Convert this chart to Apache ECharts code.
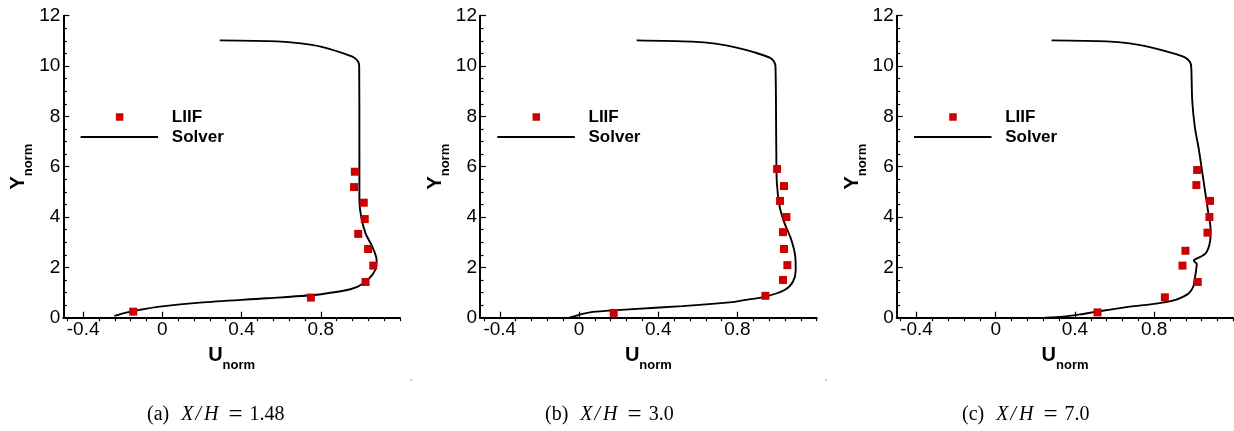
<!DOCTYPE html>
<html>
<head>
<meta charset="utf-8">
<script src="https://cdn.jsdelivr.net/npm/echarts@6/dist/echarts.min.js"></script>
<style>
  html, body { margin: 0; padding: 0; background: #fff; }
  #chart { width: 1234px; height: 431px; }
</style>
</head>
<body>
<div id="chart"></div>
<script>
// Axis ticks
const xTickLabels = [-0.4, 0, 0.4, 0.8];
const yTickLabels = [0, 2, 4, 6, 8, 10, 12];

// Panel captions: station X/H
const captionTags = ['(a)', '(b)', '(c)'];
const stations = ['1.48', '3.0', '7.0'];

// LIIF reconstruction samples [U_norm, Y_norm]
const liifA = [[0.972, 5.80], [0.968, 5.19], [1.017, 4.57], [1.022, 3.92], [0.989, 3.33],
               [1.039, 2.73], [1.065, 2.07], [1.026, 1.42], [0.750, 0.80], [-0.147, 0.24]];
const liifB = [[1.000, 5.91], [1.035, 5.23], [1.015, 4.64], [1.047, 4.00], [1.030, 3.40],
               [1.035, 2.73], [1.052, 2.09], [1.030, 1.50], [0.941, 0.87], [0.175, 0.19]];
const liifC = [[1.017, 5.87], [1.013, 5.27], [1.082, 4.64], [1.079, 4.00], [1.069, 3.38],
               [0.958, 2.66], [0.943, 2.07], [1.020, 1.42], [0.854, 0.81], [0.514, 0.21]];

// Solver profiles [U_norm, Y_norm], from the top of the domain down to the wall
const solverA = [[0.29, 11.02], [0.58, 10.98], [0.70, 10.90], [0.80, 10.77], [0.90, 10.54],
                 [0.967, 10.34], [0.989, 10.17], [0.994, 9.97], [0.995, 6.66], [0.995, 4.68],
                 [1.004, 4.01], [1.026, 3.35], [1.060, 2.82], [1.082, 2.29], [1.080, 2.03],
                 [1.060, 1.70], [1.017, 1.37], [0.950, 1.13], [0.848, 0.99], [0.781, 0.91],
                 [0.527, 0.77], [0.189, 0.60], [-0.014, 0.44], [-0.115, 0.31], [-0.183, 0.20],
                 [-0.242, 0.07]];
const solverB = [[0.291, 11.02], [0.571, 10.97], [0.689, 10.89], [0.790, 10.74], [0.891, 10.53],
                 [0.963, 10.33], [0.985, 10.17], [0.992, 9.97], [0.996, 6.66], [0.999, 5.34],
                 [1.013, 4.41], [1.038, 3.75], [1.072, 3.09], [1.092, 2.42], [1.094, 1.89],
                 [1.080, 1.43], [1.038, 1.10], [0.946, 0.85], [0.819, 0.68], [0.773, 0.62],
                 [0.521, 0.46], [0.252, 0.33], [0.084, 0.24], [0.017, 0.15], [-0.017, 0.07],
                 [-0.05, 0.0]];
const solverC = [[0.282, 11.02], [0.560, 10.98], [0.677, 10.90], [0.778, 10.75], [0.879, 10.54],
                 [0.955, 10.34], [0.980, 10.17], [0.987, 9.97], [0.992, 8.65], [1.005, 7.59],
                 [1.026, 6.66], [1.051, 5.34], [1.071, 4.28], [1.085, 3.48], [1.082, 3.02],
                 [1.060, 2.56], [1.003, 2.30], [1.000, 2.26], [1.015, 2.13], [1.012, 1.90],
                 [1.005, 1.55], [0.998, 1.25], [0.975, 0.97], [0.916, 0.73], [0.849, 0.61],
                 [0.781, 0.53], [0.677, 0.44], [0.509, 0.24], [0.425, 0.13], [0.341, 0.04],
                 [0.25, 0.0]];

const liifSets = [liifA, liifB, liifC];
const solverSets = [solverA, solverB, solverC];

const SANS = '"Liberation Sans", Arial, Helvetica, sans-serif';
const SERIF = '"Liberation Serif", "Times New Roman", serif';
const RED = '#cc0000';

const panelLeft = [63.3, 480, 896.7];
const panelWidth = 336.7;
const panelTop = 15.7;
const panelHeight = 302;
const xMin = -0.5, xMax = 1.2;

// minor x ticks: five subdivisions of each labelled interval
const xStep = (xTickLabels[1] - xTickLabels[0]) / 5;
const xMinor = [];
for (let v = xTickLabels[0] - xStep; v <= xMax + 1e-9; v += xStep) {
  const r = Math.round(v * 100) / 100;
  if (r < xMin || r > xMax) continue;
  if (xTickLabels.some(t => Math.abs(t - r) < 1e-6)) continue;
  xMinor.push(r);
}

const nameRich = {
  b: { fontFamily: SANS, fontSize: 20, fontWeight: 'bold', color: '#000' },
  s: { fontFamily: SANS, fontSize: 13, fontWeight: 'bold', color: '#000', padding: [20, 0, 0, 0] }
};

const grid = [], xAxis = [], yAxis = [], series = [], graphic = [];

for (let i = 0; i < 3; i++) {
  const L = panelLeft[i];
  grid.push({ left: L, top: panelTop, width: panelWidth, height: panelHeight, containLabel: false });

  // labelled x axis with long ticks
  xAxis.push({
    type: 'value', gridIndex: i, min: xMin, max: xMax,
    axisLine: { show: true, onZero: false, lineStyle: { color: '#000', width: 2 } },
    axisTick: { show: true, inside: true, length: 6, customValues: xTickLabels,
                lineStyle: { color: '#000', width: 1.2 } },
    axisLabel: { show: true, customValues: xTickLabels, margin: 3, fontFamily: SANS,
                 fontSize: 19, color: '#000',
                 formatter: v => String(Math.round(v * 10) / 10) },
    splitLine: { show: false },
    name: '{b|U}{s|norm}', nameLocation: 'middle', nameGap: 21,
    nameTextStyle: { rich: nameRich }
  });
  // minor x ticks
  xAxis.push({
    type: 'value', gridIndex: i, min: xMin, max: xMax,
    axisLine: { show: false },
    axisTick: { show: true, inside: true, length: 3.5, customValues: xMinor,
                lineStyle: { color: '#000', width: 1.2 } },
    axisLabel: { show: false },
    splitLine: { show: false }
  });

  yAxis.push({
    type: 'value', gridIndex: i, min: yTickLabels[0], max: yTickLabels[yTickLabels.length - 1],
    interval: yTickLabels[1] - yTickLabels[0],
    axisLine: { show: true, onZero: false, lineStyle: { color: '#000', width: 2 } },
    axisTick: { show: true, inside: true, length: 6, lineStyle: { color: '#000', width: 1.2 } },
    minorTick: { show: true, splitNumber: 4, length: 3.5, lineStyle: { color: '#000', width: 1.2 } },
    axisLabel: { margin: 3, fontFamily: SANS, fontSize: 19, color: '#000' },
    splitLine: { show: false },
    name: '{b|Y}{s|norm}', nameLocation: 'middle', nameGap: 24, nameRotate: 90,
    nameTextStyle: { rich: nameRich }
  });

  series.push({
    name: 'Solver', type: 'line', xAxisIndex: 2 * i, yAxisIndex: i,
    data: solverSets[i], showSymbol: false, symbol: 'none',
    smooth: 0.3,
    lineStyle: { color: '#000', width: 1.9 }, z: 3, silent: true
  });
  series.push({
    name: 'LIIF', type: 'scatter', xAxisIndex: 2 * i, yAxisIndex: i,
    data: liifSets[i], symbol: 'rect', symbolSize: 8,
    itemStyle: { color: RED, opacity: 1 }, z: 4, silent: true
  });

  // legend block
  const cx = L + 56.3;
  graphic.push({ type: 'rect', shape: { x: cx - 3.75, y: 117 - 3.75, width: 7.5, height: 7.5 },
                 style: { fill: RED }, silent: true });
  graphic.push({ type: 'line', shape: { x1: L + 17.3, y1: 137, x2: L + 94.8, y2: 137 },
                 style: { stroke: '#000', lineWidth: 1.9 }, silent: true });
  graphic.push({ type: 'text', x: L + 108.5, y: 117,
                 style: { text: 'LIIF', font: 'bold 17px ' + SANS, fill: '#000', verticalAlign: 'middle' } });
  graphic.push({ type: 'text', x: L + 108.5, y: 137,
                 style: { text: 'Solver', font: 'bold 17px ' + SANS, fill: '#000', verticalAlign: 'middle' } });
}

// captions under each panel
const captionLeft = [147, 545, 962];
for (let i = 0; i < 3; i++) {
  graphic.push({
    type: 'text', x: captionLeft[i], y: 415,
    style: {
      text: '{r|' + captionTags[i] + '}{x|X}{sl|/}{h|H}{eq|=}{r|' + stations[i] + '}',
      verticalAlign: 'middle', align: 'left',
      rich: {
        r: { fontFamily: SERIF, fontSize: 20, color: '#000' },
        x: { fontFamily: SERIF, fontSize: 20, fontStyle: 'italic', color: '#000', padding: [0, 2, 0, 12] },
        sl: { fontFamily: SERIF, fontSize: 20, fontStyle: 'italic', color: '#000', padding: [0, 3, 0, 0] },
        h: { fontFamily: SERIF, fontSize: 20, fontStyle: 'italic', color: '#000' },
        eq: { fontFamily: SERIF, fontSize: 25, color: '#000', padding: [0, 7, 0, 10] }
      }
    }
  });
}

// small specks between panels
graphic.push({ type: 'rect', shape: { x: 410.5, y: 379.5, width: 1.2, height: 1.2 }, style: { fill: '#777' } });
graphic.push({ type: 'rect', shape: { x: 825.5, y: 379.5, width: 1.2, height: 1.2 }, style: { fill: '#777' } });

const chart = echarts.init(document.getElementById('chart'), null, { renderer: 'canvas' });
chart.setOption({
  animation: false,
  backgroundColor: '#fff',
  grid, xAxis, yAxis, series, graphic
});
</script>
</body>
</html>
